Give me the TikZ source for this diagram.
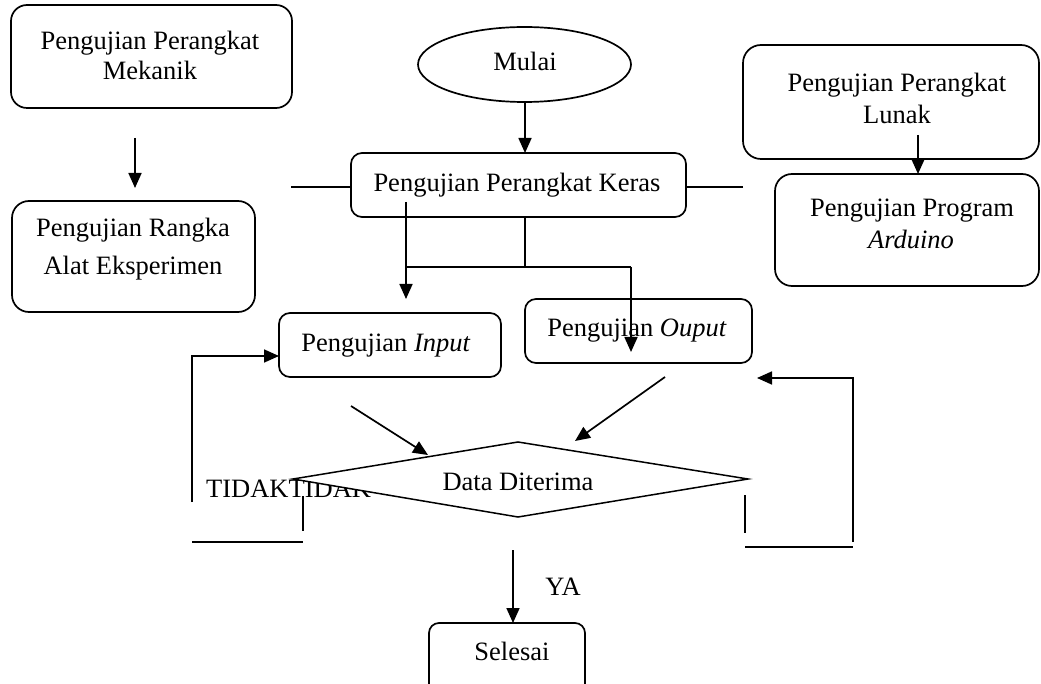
\documentclass[tikz,border=0pt]{standalone}
\usepackage{fontspec}
\setmainfont{Liberation Serif}
\usetikzlibrary{arrows.meta,shapes.geometric}
\begin{document}
\begin{tikzpicture}[x=1pt,y=-1pt,
 box/.style={draw,line width=1.7pt,inner sep=0pt,outer sep=0pt},
 txt/.style={inner sep=0pt,anchor=base,font=\fontsize{26.5}{30}\selectfont},
 ln/.style={line width=1.7pt},
 arr/.style={line width=1.7pt,-{Triangle[length=15pt,width=13pt]}}]
\useasboundingbox (0,0) rectangle (1041,684);
\clip (0,0) rectangle (1041,684);
% boxes
\node[box,rounded corners=16pt,minimum width=281pt,minimum height=103pt] (mek) at (151.5,56.5) {};
\node[box,rounded corners=17pt,minimum width=243pt,minimum height=111pt] (rgk) at (133.5,256.5) {};
\node[box,ellipse,minimum width=213pt,minimum height=75pt] (mulai) at (524.5,64.5) {};
\node[box,rounded corners=11pt,minimum width=335pt,minimum height=64pt] (keras) at (518.5,185) {};
\node[box,rounded corners=11pt,minimum width=222pt,minimum height=64pt] (inp) at (390,345) {};
\node[box,rounded corners=11pt,minimum width=227pt,minimum height=64pt] (out) at (638.5,331) {};
\node[box,rounded corners=18pt,minimum width=296pt,minimum height=114pt] (lunak) at (891,102) {};
\node[box,rounded corners=17pt,minimum width=264pt,minimum height=112pt] (ard) at (907,230) {};
\node[box,rounded corners=10pt,minimum width=156pt,minimum height=80pt] (sel) at (507,663) {};
% texts
\node[txt] (tmek1) at (150,50) {Pengujian Perangkat};
\node[txt] (tmek2) at (150,80) {Mekanik};
\node[txt] (trgk1) at (133,237) {Pengujian Rangka};
\node[txt] (trgk2) at (133,275) {Alat Eksperimen};
\node[txt] (tmulai) at (525,71) {Mulai};
\node[txt] (tkeras) at (517,192) {Pengujian Perangkat Keras};
\node[txt] (tinp) at (386,352) {Pengujian \textit{Input}};
\node[txt] (tout) at (637,337) {Pengujian \textit{Ouput}};
\node[txt] (tlun1) at (897,92) {Pengujian Perangkat};
\node[txt] (tlun2) at (897,124) {Lunak};
\node[txt] (tard1) at (912,217) {Pengujian Program};
\node[txt] (tard2) at (911,249) {\textit{Arduino}};
\node[txt,anchor=base west] (ttidak) at (206,497) {TIDAKTIDAK};
\node[txt] (tya) at (563,595) {YA};
\node[txt] (tsel) at (512,660) {Selesai};
% diamond
\coordinate (dL) at (293,479);
\coordinate (dT) at (518,442);
\coordinate (dR) at (748,479);
\coordinate (dB) at (518,517);
\draw[line width=1.5pt,fill=white] (dL) -- (dT) -- (dR) -- (dB) -- cycle;
\node[txt] (tdata) at (518,490) {Data Diterima};
% connectors
\coordinate (m1) at (135,138);
\draw[arr] (m1) -- (135,188);
\draw[arr] (mulai.south -| 525,0) -- (525,153);
\coordinate (kL) at (291,187);
\coordinate (kR) at (743,187);
\draw[ln] (kL) -- (kL -| keras.west);
\draw[ln] (kR) -- (kR -| keras.east);
\coordinate (kA) at (406,202);
\coordinate (kAe) at (406,299);
\draw[arr] (kA) -- (kAe);
\coordinate (kS) at (525,217);
\coordinate (kJ) at (525,267);
\draw[ln] (kS) -- (kJ);
\coordinate (jL) at (406,267);
\coordinate (jR) at (631,267);
\draw[ln] (jL) -- (jR);
\coordinate (oE) at (631,352);
\draw[arr] (jR) -- (oE);
\coordinate (lA) at (918,135);
\draw[arr] (lA) -- (lA |- ard.north);
% into diamond
\coordinate (i1) at (351,406);
\coordinate (i2) at (428,455);
\draw[arr] (i1) -- (i2);
\coordinate (o1) at (665,377);
\coordinate (o2) at (575,441);
\draw[arr] (o1) -- (o2);
% left loop
\coordinate (lpB) at (192,502);
\coordinate (lpT) at (192,356);
\draw[arr] (lpB) -- (lpT) -- (lpT -| inp.west);
\coordinate (lh1) at (192,542);
\coordinate (lh2) at (303,542);
\draw[ln] (lh1) -- (lh2);
\coordinate (lv1) at (303,496);
\coordinate (lv2) at (303,531);
\draw[ln] (lv1) -- (lv2);
% right loop
\coordinate (rpB) at (853,542);
\coordinate (rpT) at (853,378);
\coordinate (rpE) at (757,378);
\draw[arr] (rpB) -- (rpT) -- (rpE);
\coordinate (rh1) at (745,547);
\coordinate (rh2) at (853,547);
\draw[ln] (rh1) -- (rh2);
\coordinate (rv1) at (745,495);
\coordinate (rv2) at (745,533);
\draw[ln] (rv1) -- (rv2);
% ya
\coordinate (yaS) at (513,550);
\draw[arr] (yaS) -- (yaS |- sel.north);
\end{tikzpicture}
\end{document}
